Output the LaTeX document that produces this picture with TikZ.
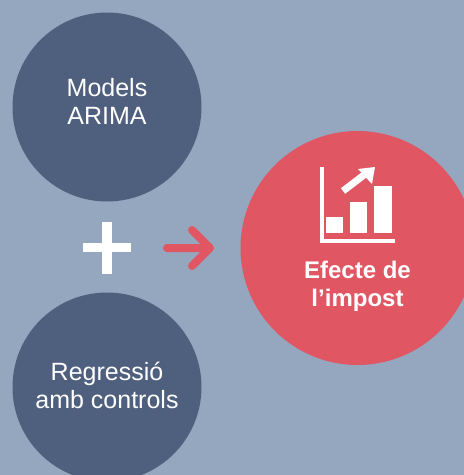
\documentclass[tikz,border=0pt]{standalone}
\usepackage{fontspec}
\setmainfont{Liberation Sans}
\definecolor{bgc}{HTML}{95A6BF}
\definecolor{navy}{HTML}{4F607F}
\definecolor{coral}{HTML}{E05663}
\tikzset{x=1pt,y=-1pt,
 circ/.style={circle,fill=navy,minimum size=189pt,inner sep=0pt},
 lbl/.style={text=white,align=center,font=\fontsize{25}{28}\selectfont},
 bar/.style={fill=white,draw=none}}
\begin{document}
\begin{tikzpicture}
\useasboundingbox (0,0) rectangle (464,475);
\fill[bgc] (0,0) rectangle (464,475);
\node[circ] (arima) at (107,107) {};
\node[lbl] (arimal) at (107,101) {Models\\ARIMA};
\node[circ] (reg) at (107,387) {};
\node[lbl] (regl) at (107,385) {Regressió\\amb controls};
\node[circle,fill=coral,minimum size=234pt,inner sep=0pt] (eff) at (357.5,248) {};
\node[text=white,align=center,font=\fontsize{24}{28}\selectfont\bfseries] (lab) at (357.5,286) {Efecte de\\l'impost};
\fill[white] (102,222) rectangle (112,273.5);
\fill[white] (83,243) rectangle (131,252);
\coordinate (as) at (167,248);
\coordinate (ae) at (210,248);
\draw[coral,line width=8pt,line cap=round,line join=round] (as) -- (ae) (192,230) -- (ae) -- (192,266);
\draw[white,line width=4pt] (322,167) -- (322,241) -- (395,241);
\fill[bar] (326,217) rectangle (343,233);
\fill[bar] (350,202) rectangle (367,233);
\fill[bar] (374,186) rectangle (392,233);
\draw[white,line width=7pt] (343,191) -- (364,175);
\fill[white] (375,167) -- (358,169) -- (372,184) -- cycle;
\end{tikzpicture}
\end{document}
